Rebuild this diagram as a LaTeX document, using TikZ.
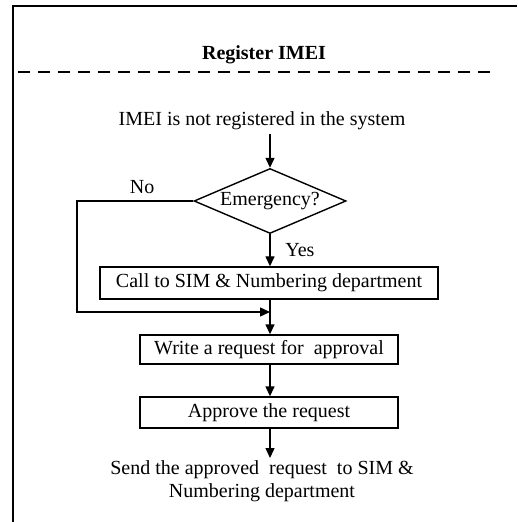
\documentclass[tikz,border=0pt]{standalone}
\usepackage{fontspec}
\setmainfont{Liberation Serif}
\usetikzlibrary{shapes.geometric,arrows.meta}
\tikzset{
  stepbox/.style={draw,line width=0.7pt,inner sep=0pt,minimum height=15.5pt},
  decision/.style={draw,diamond,aspect=2.34,inner sep=0pt,line width=0.7pt,
    minimum width=76pt,minimum height=32.5pt},
  flow/.style={-{Triangle[length=5pt,width=4.5pt]},line width=0.7pt},
}

\begin{document}
\begin{tikzpicture}[x=0.5pt,y=-0.5pt,font=\fontsize{10}{11.5}\selectfont]
\useasboundingbox (0,0) rectangle (517,522);
% frame and heading
\draw[line width=1pt] (13,522) -- (13,6) -- (517,6);
\node[font=\fontsize{10}{11.5}\selectfont\bfseries] (title) at (264,55) {Register IMEI};
\draw[dash pattern=on 6pt off 4pt,line width=0.8pt] (18,72) -- (497,72);

% steps
\node[inner sep=2pt] (start) at (262,121) {IMEI is not registered in the system};
\node[decision] (emerg) at (270,201) {Emergency?};
\node[stepbox,minimum width=169pt,minimum height=16pt] (call) at (269,283) {Call to SIM \& Numbering department};
\node[stepbox,minimum width=129pt,minimum height=14.5pt] (write) at (269,349.5) {Write a request for\ \ approval};
\node[stepbox,minimum width=129pt] (approve) at (269,412.5) {Approve the request};
\node[align=center,anchor=north,inner sep=1pt] (send) at (262,458)
  {Send the approved\ \ request\ \ to SIM \&\\Numbering department};
\coordinate (loop) at (77,312);
\coordinate (join) at (270,312);

% connectors
\draw[flow] (start.south -| emerg.north) -- (emerg.north);
\draw[flow] (emerg.south) -- node[right=4pt] {Yes} (call.north -| emerg.south);
\draw[flow] (emerg.west) -| node[above,pos=0.22] {No} (loop) -- (join);
\draw[line width=0.7pt] (call.south -| join) -- (join);
\draw[flow] (join) -- (write.north -| join);
\draw[flow] (write.south -| join) -- (approve.north -| join);
\draw[flow] (approve.south -| join) -- (send.north -| join);
\end{tikzpicture}
\end{document}
